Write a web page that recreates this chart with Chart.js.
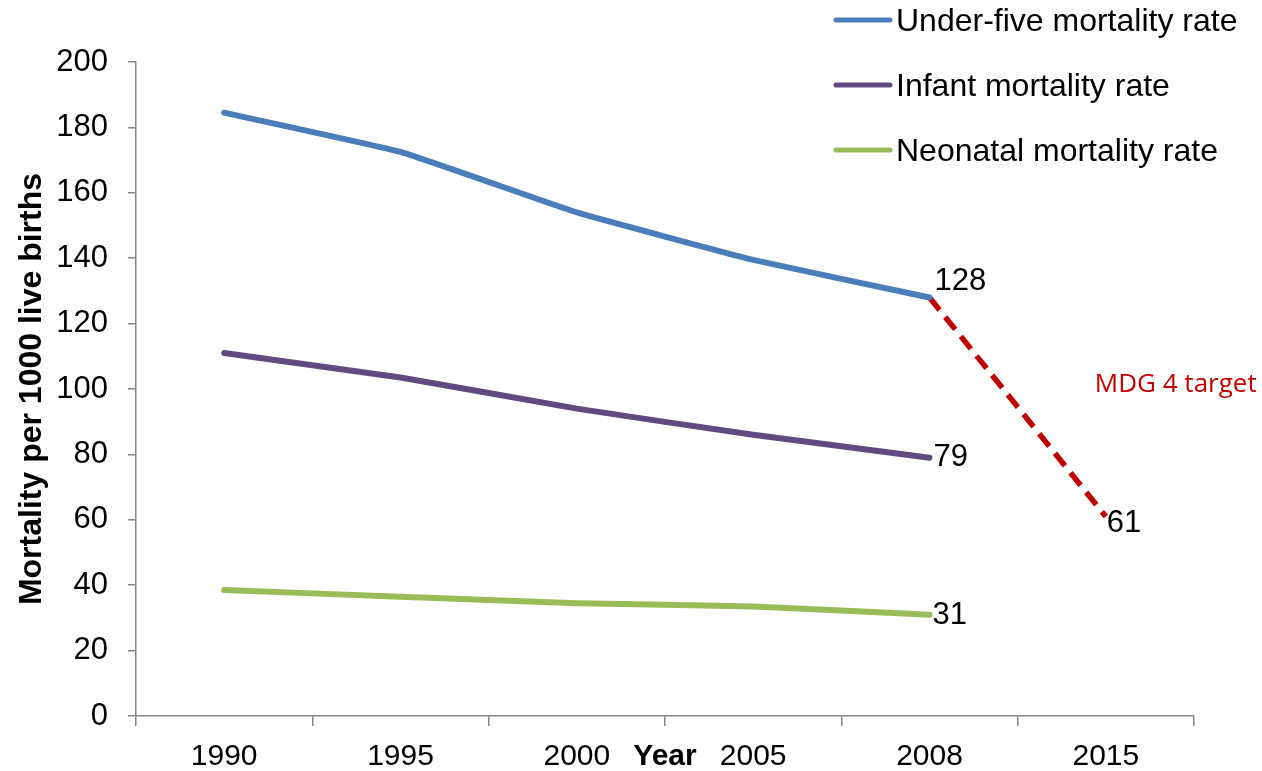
<!DOCTYPE html>
<html>
<head>
<meta charset="utf-8">
<title>Child mortality</title>
<script src="https://cdn.jsdelivr.net/npm/chart.js@4"></script>
<style>
  html, body { margin: 0; padding: 0; background: #fff; }
  canvas { display: block; }
</style>
</head>
<body>
<canvas id="chart" width="1262" height="771"></canvas>
<script>
const years = ["1990", "1995", "2000", "2005", "2008", "2015"];
const underFive = [184.5, 172.5, 154, 139.5, 128, null];
const infant = [111, 103.5, 94, 86, 79, null];
const neonatal = [38.5, 36.5, 34.5, 33.5, 31, null];
const mdgTarget = [null, null, null, null, 128, 61];
const yTicks = [0, 20, 40, 60, 80, 100, 120, 140, 160, 180, 200];

const AXIS_GRAY = "#868686";
const SANS = "'Liberation Sans', Arial, sans-serif";

// offsets of the end-value labels from the last point of each line
const endLabelOffset = [
  { dx: 5, dy: -16 },
  { dx: 4, dy: 0 },
  { dx: 3, dy: 1 },
  { dx: 1, dy: 7 },
];

const legendPlugin = {
  id: "cornerLegend",
  afterDraw(chart) {
    const ctx = chart.ctx;
    const items = chart.data.datasets.filter((d) => !d.noLegend);
    ctx.save();
    items.forEach((d, i) => {
      const y = 20 + i * 65;
      ctx.strokeStyle = d.borderColor;
      ctx.lineWidth = 5;
      ctx.lineCap = "round";
      ctx.beginPath();
      ctx.moveTo(836, y);
      ctx.lineTo(890, y);
      ctx.stroke();
      ctx.fillStyle = "#000";
      ctx.font = "32px " + SANS;
      ctx.textBaseline = "middle";
      ctx.textAlign = "left";
      ctx.fillText(d.label, 896, y + 2);
    });
    ctx.restore();
  },
};

const labelsPlugin = {
  id: "endLabels",
  afterDatasetsDraw(chart) {
    const ctx = chart.ctx;
    ctx.save();
    ctx.font = "31px " + SANS;
    ctx.fillStyle = "#000";
    ctx.textAlign = "left";
    ctx.textBaseline = "middle";
    chart.data.datasets.forEach((d, di) => {
      let last = -1;
      d.data.forEach((v, i) => { if (v !== null) last = i; });
      const pt = chart.getDatasetMeta(di).data[last];
      const off = endLabelOffset[di];
      ctx.fillText(String(Math.round(d.data[last])), pt.x + off.dx, pt.y + off.dy);
    });

    // target annotation beside the dashed segment
    const yScale = chart.scales.y;
    const tgt = chart.getDatasetMeta(3).data[5];
    ctx.font = "26px 'Open Sans', 'Noto Sans', sans-serif";
    ctx.fillStyle = "#C00000";
    ctx.fillText("MDG 4 target", tgt.x - 11, yScale.getPixelForValue(101.5));

    // x axis title sits on the tick-label row
    const area = chart.chartArea;
    ctx.font = "bold 30px " + SANS;
    ctx.fillStyle = "#000";
    ctx.textAlign = "center";
    ctx.fillText("Year", (area.left + area.right) / 2, 757);
    ctx.restore();
  },
};

const lineStyle = {
  borderWidth: 6,
  pointRadius: 0,
  tension: 0.1,
  borderCapStyle: "round",
  borderJoinStyle: "round",
  fill: false,
};

new Chart(document.getElementById("chart"), {
  type: "line",
  data: {
    labels: years,
    datasets: [
      { label: "Under-five mortality rate", data: underFive, borderColor: "#4A7EBB", ...lineStyle },
      { label: "Infant mortality rate", data: infant, borderColor: "#5F4B80", ...lineStyle },
      { label: "Neonatal mortality rate", data: neonatal, borderColor: "#9BBB59", ...lineStyle },
      {
        label: "MDG 4 target", data: mdgTarget, borderColor: "#C00000", noLegend: true,
        ...lineStyle, tension: 0, borderWidth: 5.5, borderCapStyle: "butt", borderDash: [16, 9],
      },
    ],
  },
  options: {
    responsive: false,
    animation: false,
    layout: { padding: { top: 62, right: 68, left: 0, bottom: 0 } },
    plugins: {
      legend: { display: false },
      tooltip: { enabled: false },
    },
    scales: {
      x: {
        offset: true,
        grid: { offset: true, drawOnChartArea: false, tickLength: 10, color: AXIS_GRAY, lineWidth: 1.5 },
        border: { color: AXIS_GRAY, width: 1.5 },
        ticks: { color: "#000", font: { family: SANS, size: 30 }, padding: 13, maxRotation: 0 },
        afterFit: (s) => { s.height = 55; },
      },
      y: {
        min: 0,
        max: 200,
        afterBuildTicks: (s) => { s.ticks = yTicks.map((v) => ({ value: v })); },
        grid: { drawOnChartArea: false, tickLength: 8, color: AXIS_GRAY, lineWidth: 1.5 },
        border: { color: AXIS_GRAY, width: 1.5 },
        ticks: { color: "#000", font: { family: SANS, size: 31 }, padding: 20 },
        title: {
          display: true,
          text: "Mortality per 1000 live births",
          color: "#000",
          font: { family: SANS, size: 32, weight: "bold" },
          padding: { top: 13, bottom: 0 },
        },
        afterFit: (s) => { s.width = 136; },
      },
    },
  },
  plugins: [legendPlugin, labelsPlugin],
});
</script>
</body>
</html>
